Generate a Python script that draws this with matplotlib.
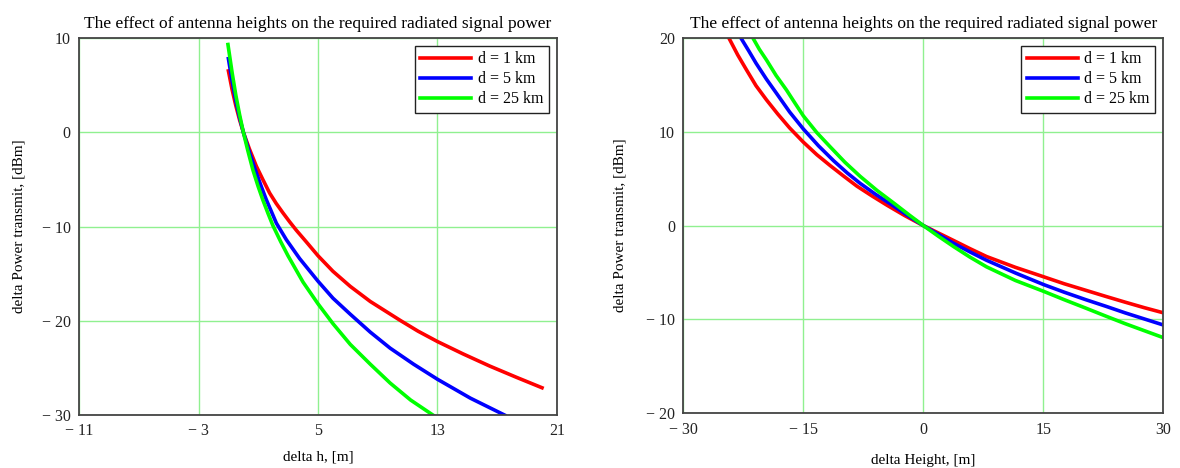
import numpy as np
import matplotlib
matplotlib.use('Agg')
import matplotlib.pyplot as plt

plt.rcParams['font.family'] = ['Liberation Serif', 'DejaVu Serif']
plt.rcParams['axes.unicode_minus'] = True

# ---------- data, left panel: delta h ----------
h_red_x = [-1.0, -0.75, -0.5, -0.25, 0.0, 0.4, 0.87, 1.3, 1.76, 2.2, 2.65, 3.1, 3.55, 4.2, 5.0,
           6.0, 7.16, 8.5, 10.5, 11.7, 13.0, 14.7, 16.5, 18.3, 20.0]
h_red_y = [6.5, 4.5, 2.8, 1.3, 0.0, -1.75, -3.6, -5.0, -6.45, -7.55, -8.55, -9.5, -10.4, -11.6, -13.1,
           -14.75, -16.35, -17.95, -19.95, -21.1, -22.2, -23.5, -24.8, -26.0, -27.1]

h_blue_x = [-1.0, -0.75, -0.5, -0.25, 0.0, 0.4, 0.87, 1.2, 1.54, 2.21, 2.88, 3.77, 5.0, 6.0, 7.16,
            8.5, 9.83, 11.4, 13.0, 15.2, 17.5]
h_blue_y = [7.8, 5.4, 3.3, 1.55, 0.0, -2.1, -4.3, -5.75, -7.16, -9.64, -11.4, -13.4, -15.8, -17.6, -19.3,
            -21.2, -22.9, -24.6, -26.2, -28.2, -30.0]

h_green_x = [-1.03, -0.75, -0.5, -0.25, 0.0, 0.3, 0.64, 0.98, 1.31, 1.65, 1.98, 2.5, 2.99, 4.0, 5.0,
             6.0, 7.16, 8.5, 9.83, 11.2, 12.7]
h_green_y = [9.3, 6.3, 3.9, 1.85, 0.0, -1.95, -4.0, -5.7, -7.2, -8.6, -9.9, -11.6, -13.1, -15.9, -18.2,
             -20.3, -22.5, -24.6, -26.6, -28.4, -30.0]

# ---------- data, right panel: delta Height ----------
H_red_x = [-24.3, -23.2, -22.1, -20.9, -19.6, -18.2, -16.7, -15.0, -13.3, -11.65, -10.0, -8.3, -6.4,
           -4.5, -2.3, 0.0, 1.9, 3.8, 5.8, 7.9, 11.5, 15.0, 17.6, 20.3, 22.8, 25.2, 27.6, 30.0]
H_red_y = [20.0, 18.2, 16.6, 14.9, 13.4, 11.9, 10.4, 8.9, 7.55, 6.4, 5.3, 4.2, 3.15,
           2.15, 1.05, 0.0, -0.8, -1.6, -2.45, -3.3, -4.45, -5.45, -6.2, -6.9, -7.55, -8.16, -8.75, -9.3]

H_blue_x = [-22.8, -21.8, -20.9, -19.6, -18.35, -16.7, -15.0, -13.1, -11.2, -9.5, -7.9, -6.0, -4.1,
            -2.0, 0.0, 1.9, 3.8, 5.8, 7.9, 11.5, 15.0, 17.6, 20.3, 22.8, 25.2, 27.6, 30.0]
H_blue_y = [20.0, 18.6, 17.3, 15.6, 14.1, 12.1, 10.3, 8.5, 6.9, 5.6, 4.5, 3.35, 2.3,
            1.1, 0.0, -0.95, -1.9, -2.8, -3.7, -5.05, -6.28, -7.1, -7.9, -8.6, -9.3, -9.95, -10.6]

H_green_x = [-21.3, -20.5, -19.6, -18.4, -17.1, -16.0, -15.0, -13.3, -11.65, -9.8, -7.9, -5.8, -3.7,
             -1.8, 0.0, 1.9, 3.8, 5.8, 7.9, 11.5, 15.0, 17.6, 20.3, 22.8, 25.2, 27.6, 30.0]
H_green_y = [20.0, 18.8, 17.65, 16.0, 14.45, 13.0, 11.7, 9.9, 8.4, 6.75, 5.25, 3.75, 2.4,
             1.15, 0.0, -1.15, -2.25, -3.35, -4.4, -5.85, -7.0, -7.9, -8.8, -9.65, -10.45, -11.2, -11.95]

series_names = ['d = 1 km', 'd = 5 km', 'd = 25 km']
colors = ['#ff0000', '#0000ff', '#00ff00']

title = 'The effect of antenna heights on the required radiated signal power'
ylabel = 'delta Power transmit, [dBm]'

left_xticks = [-11, -3, 5, 13, 21]
left_yticks = [-30, -20, -10, 0, 10]
right_xticks = [-30, -15, 0, 15, 30]
right_yticks = [-20, -10, 0, 10, 20]


def fmt(v):
    return '\u2212 %d' % abs(v) if v < 0 else '%d' % v


def style_axes(ax, xticks, yticks):
    ax.set_xlim(xticks[0], xticks[-1])
    ax.set_ylim(yticks[0], yticks[-1])
    ax.set_xticks(xticks)
    ax.set_yticks(yticks)
    ax.set_xticklabels([fmt(v) for v in xticks])
    ax.set_yticklabels([fmt(v) for v in yticks])
    ax.tick_params(length=0, labelsize=11.5, pad=6, colors='#222222')
    ax.grid(True, color='#90f090', linewidth=1.0)
    ax.set_axisbelow(True)
    for s in ax.spines.values():
        s.set_color('#444444')
        s.set_linewidth(1.3)


fig = plt.figure(figsize=(11.8, 4.68), dpi=100)
ax1 = fig.add_axes([0.067, 0.113, 0.405, 0.806])
ax2 = fig.add_axes([0.579, 0.117, 0.407, 0.802])

# 左图
for xs, ys, c, n in zip([h_red_x, h_blue_x, h_green_x], [h_red_y, h_blue_y, h_green_y], colors, series_names):
    ax1.plot(xs, ys, color=c, lw=2.6, label=n, solid_joinstyle='round')
style_axes(ax1, left_xticks, left_yticks)
ax1.set_title(title, fontsize=12.5, pad=7)
ax1.set_xlabel('delta h, [m]', fontsize=11, labelpad=8)
ax1.set_ylabel(ylabel, fontsize=11, labelpad=12)

# 右图
for xs, ys, c, n in zip([H_red_x, H_blue_x, H_green_x], [H_red_y, H_blue_y, H_green_y], colors, series_names):
    ax2.plot(xs, ys, color=c, lw=2.6, label=n, solid_joinstyle='round')
style_axes(ax2, right_xticks, right_yticks)
ax2.set_title(title, fontsize=12.5, pad=7)
ax2.set_xlabel('delta Height, [m]', fontsize=11, labelpad=12)
ax2.set_ylabel(ylabel, fontsize=11, labelpad=14)

for ax in (ax1, ax2):
    leg = ax.legend(loc='upper right', fontsize=11.5, handlelength=3.2, handletextpad=0.4,
                    borderaxespad=0.5, labelspacing=0.25, fancybox=False, framealpha=1,
                    borderpad=0.35)
    leg.get_frame().set_edgecolor('#222222')
    leg.get_frame().set_linewidth(1.0)

fig.savefig('out.png', dpi=100)
